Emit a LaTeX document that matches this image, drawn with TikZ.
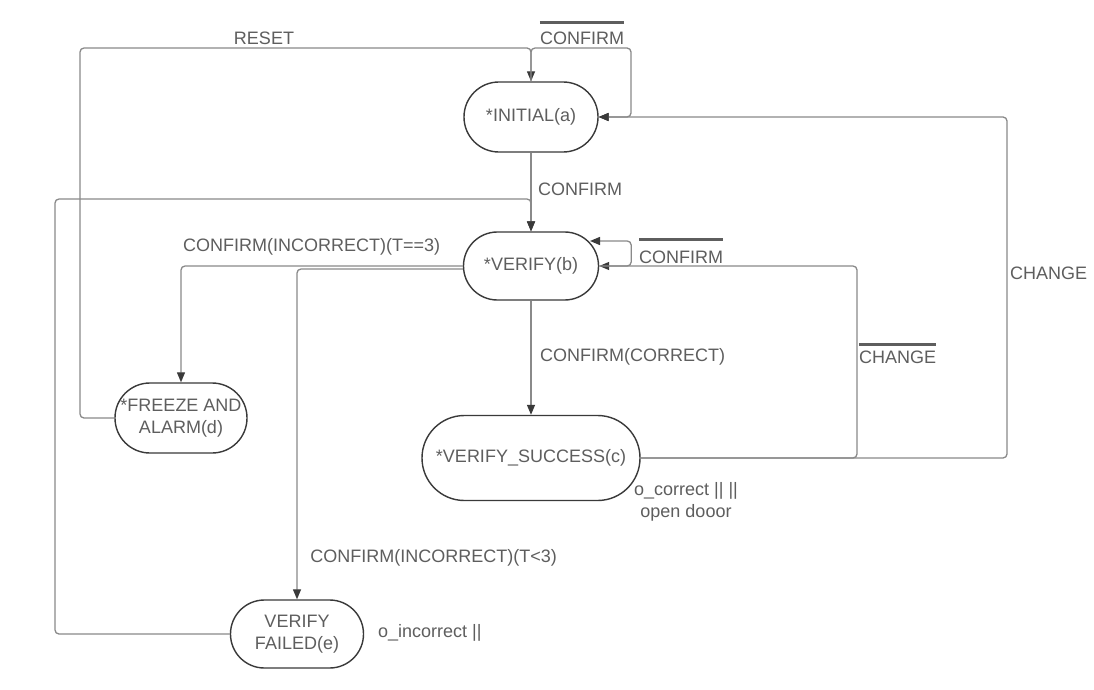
\documentclass[tikz,border=0pt]{standalone}
\usepackage{fontspec}
\setmainfont{Liberation Sans}
\usetikzlibrary{arrows.meta}
\definecolor{txt}{HTML}{5E5E5E}
\definecolor{edge}{HTML}{8A8A8A}
\definecolor{bord}{HTML}{3A3A3A}
\begin{document}
\begin{tikzpicture}[x=1pt,y=-1pt,
  state/.style n args={3}{draw=bord, line width=1.4pt, text=txt,
    font=\fontsize{18}{21.5}\selectfont, inner sep=0pt, align=center,
    minimum width=#1, minimum height=#2, rounded corners=#3},
  conn/.style={draw=edge, line width=1.3pt, rounded corners=4pt},
  arr/.style={conn, -{Triangle[length=10pt,width=8pt,color=bord]}},
  lbl/.style={text=txt, font=\fontsize{18}{21.5}\selectfont, inner sep=0pt, align=center},
  bar/.style={draw=txt, line width=2.2pt}]
\path[fill=white,use as bounding box] (0,0) rectangle (1094,690);

% states
\node[state={134pt}{70pt}{34.9pt}] (a) at (531,117) {*INITIAL(a)};
\node[state={135pt}{68pt}{33.9pt}] (b) at (531,266) {*VERIFY(b)};
\node[state={218pt}{85pt}{42.4pt}] (c) at (531,458) {*VERIFY\_SUCCESS(c)};
\node[state={132pt}{70pt}{34.9pt}] (d) at (181,418) {*FREEZE AND\\ALARM(d)};
\node[state={133pt}{68pt}{33.9pt}] (e) at (297,634) {VERIFY\\FAILED(e)};

% helper coordinates
\coordinate (rl) at (80,48);
\coordinate (lpA) at (631,48);
\coordinate (chg) at (1007,117);
\coordinate (nch) at (857,266);
\coordinate (fl) at (55,199);
\coordinate (bloop) at (590,241);

% connectors
\draw[arr] (d.west) -| (rl) -| (a.north);
\draw[arr] (a.north) |- (lpA) |- (a.east);
\draw[arr] (c.east) -| (chg) -- (a.east);
\draw[arr] (c.east) -| (nch) -- (b.east);
\draw[arr] (b.east) -- ++(32,0) |- (bloop);
\draw[arr] (a.south) -- (b.north);
\draw[arr] (e.west) -| (fl) -| (b.north);
\draw[arr] (b.west) -| (d.north);
\draw[arr] ([yshift=-3pt]b.west) -| (e.north);
\draw[arr] (b.south) -- (c.north);

% labels
\node[lbl] (lreset) at (264,38) {RESET};
\node[lbl] (lnca) at (582,38) {CONFIRM};
\draw[bar] ([yshift=9pt]lnca.north west) -- ([yshift=9pt]lnca.north east);
\node[lbl,anchor=west] (lab) at (538,189) {CONFIRM};
\node[lbl,anchor=west] (lncb) at (639,257) {CONFIRM};
\draw[bar] ([yshift=11pt]lncb.north west) -- ([yshift=11pt]lncb.north east);
\node[lbl,anchor=west] (lt3) at (183,247) {CONFIRM(INCORRECT)(T==3)};
\node[lbl,anchor=west] (lcor) at (540,357) {CONFIRM(CORRECT)};
\node[lbl,anchor=west] (lnch) at (859,357) {CHANGE};
\draw[bar] ([yshift=6pt]lnch.north west) -- ([yshift=6pt]lnch.north east);
\node[lbl,anchor=west] (lch) at (1010,273) {CHANGE};
\node[lbl] (oc) at (686,502) {o\_correct || ||\\open dooor};
\node[lbl,anchor=east] (llt3) at (557,558) {CONFIRM(INCORRECT)(T<3)};
\node[lbl,anchor=west] (oi) at (378,633) {o\_incorrect ||};
\end{tikzpicture}
\end{document}
